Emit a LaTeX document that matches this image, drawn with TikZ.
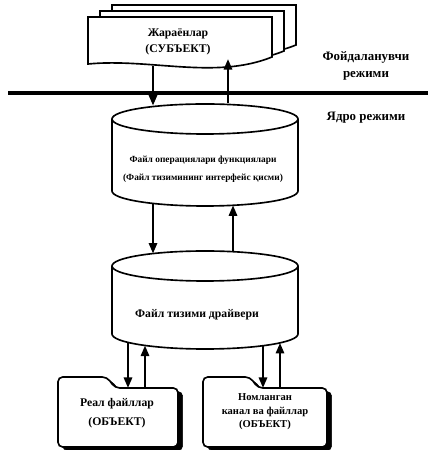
\documentclass[tikz,border=0pt]{standalone}
\usepackage{fontspec}
\setmainfont{Liberation Serif}
\usetikzlibrary{arrows.meta}

\begin{document}
\begin{tikzpicture}[x=0.03cm, y=0.03cm,
			box/.style={draw, line width=1.4pt, fill=white},
			folderback/.style={fill=black, rounded corners=4pt, xshift=4pt, yshift=-3pt},
			flow/.style={line width=2pt, -{Triangle[length=9pt,width=7pt]}},
			lbl/.style={align=center, font=\fontsize{10}{13}\selectfont\bfseries},
			modelbl/.style={align=center, font=\fontsize{11}{14}\selectfont\bfseries}]
			\useasboundingbox (0,0) rectangle (430,450);
			% processes
			\foreach \d in {24,12,0} {
				\draw[box] ({88+\d},{386+\d/2}) -- ({88+\d},{433+\d/2}) -- ({272+\d},{433+\d/2}) -- ({272+\d},{393+\d/2})
				.. controls ({215+\d},{370+\d/2}) and ({150+\d},{392+\d/2}) .. cycle;
			}
			\node[lbl, font=\fontsize{10}{14}\selectfont\bfseries] (proc) at (178,408) {Жараёнлар\\(СУБЪЕКТ)};
			% modes
			\coordinate (bl) at (8,357);
			\coordinate (br) at (428,357);
			\draw[line width=4pt] (bl) -- (br);
			\node[modelbl] (user) at (366,384) {Фойдаланувчи\\режими};
			\node[modelbl] (kern) at (366,332) {Ядро режими};
			% file operations
			\draw[box] (112,331) -- (112,259) arc[start angle=180, end angle=360, x radius=93, y radius=15] -- (298,331);
			\draw[box] (205,331) ellipse[x radius=93, y radius=15];
			\node[lbl, font=\fontsize{8}{15}\selectfont\bfseries] (ops) at (203,281) {Файл операциялари функциялари\\(Файл тизимининг интерфейс қисми)};
			% driver
			\draw[box] (112,184) -- (112,116) arc[start angle=180, end angle=360, x radius=93, y radius=15] -- (298,184);
			\draw[box] (205,184) ellipse[x radius=93, y radius=15];
			\node[lbl] (drv) at (197,135) {Файл тизими драйвери};
			% files
			\draw[folderback] (58,3) -- (58,73) -- (107,73) -- (115,62) -- (178,62) -- (178,3) -- cycle;
			\draw[box, rounded corners=4pt] (58,3) -- (58,73) -- (107,73) -- (115,62) -- (178,62) -- (178,3) -- cycle;
			\node[lbl, font=\fontsize{10}{16}\selectfont\bfseries] (real) at (117,37) {Реал файллар\\(ОБЪЕКТ)};
			\draw[folderback] (203,3) -- (203,73) -- (250,73) -- (258,62) -- (327,62) -- (327,3) -- cycle;
			\draw[box, rounded corners=4pt] (203,3) -- (203,73) -- (250,73) -- (258,62) -- (327,62) -- (327,3) -- cycle;
			\node[lbl, font=\fontsize{9}{11.5}\selectfont\bfseries] (named) at (265,38) {Номланган\\канал ва файллар\\(ОБЪЕКТ)};
			% connector ends
			\coordinate (p1) at (153,384);
			\coordinate (p2) at (228,391);
			\coordinate (o1) at (153,344.4);
			\coordinate (o2) at (228,346.5);
			\coordinate (o3) at (153,246.6);
			\coordinate (o4) at (233,244.7);
			\coordinate (d1) at (153,196.4);
			\coordinate (d2) at (233,198.3);
			\coordinate (d3) at (128,107.6);
			\coordinate (d4) at (145,104.5);
			\coordinate (d5) at (263,104.3);
			\coordinate (d6) at (280,107.1);
			\coordinate (r1) at (128,62);
			\coordinate (r2) at (145,62);
			\coordinate (n1) at (263,62);
			\coordinate (n2) at (280,62);
			\draw[flow] (p1) -- (o1);
			\draw[flow] (o2) -- (p2);
			\draw[flow] (o3) -- (d1);
			\draw[flow] (d2) -- (o4);
			\draw[flow] (d3) -- (r1);
			\draw[flow] (r2) -- (d4);
			\draw[flow] (d5) -- (n1);
			\draw[flow] (n2) -- (d6);
		\end{tikzpicture}
\end{document}
